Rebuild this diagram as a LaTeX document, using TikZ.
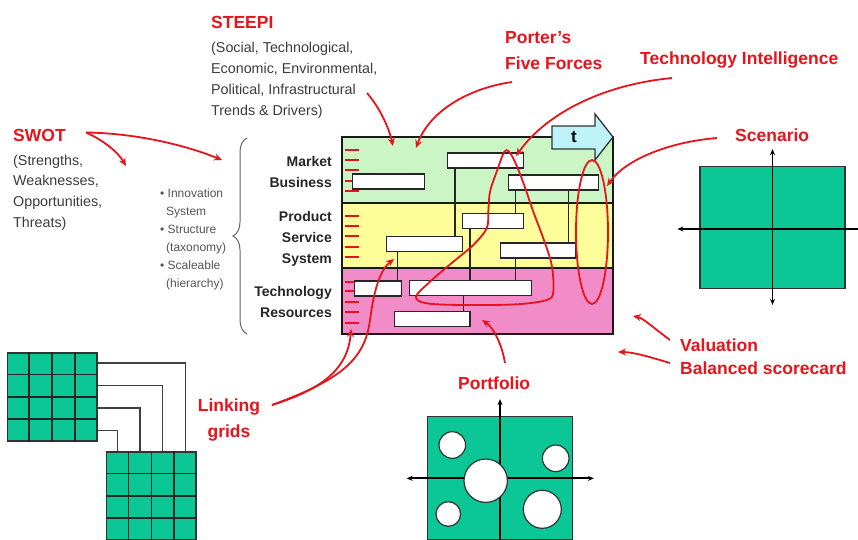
\documentclass[tikz,border=0pt]{standalone}
\usepackage{fontspec}
\setmainfont{Liberation Sans}
\usetikzlibrary{arrows.meta,decorations.pathreplacing,calc}
\definecolor{mkred}{HTML}{E8141C}
\definecolor{gridgreen}{HTML}{0BC795}
\definecolor{bandgreen}{HTML}{CCF5C6}
\definecolor{bandyellow}{HTML}{FDFD9A}
\definecolor{bandpink}{HTML}{F28CC9}
\definecolor{tcyan}{HTML}{BDF3F8}
\definecolor{subgray}{HTML}{3C3C3C}
\definecolor{bulgray}{HTML}{555555}
\begin{document}
\begin{tikzpicture}[x=1pt,y=-1pt,
  redlab/.style={text=mkred,font=\fontsize{17.5}{21}\selectfont\bfseries,inner sep=0pt,anchor=base west},
  sublab/.style={text=subgray,font=\fontsize{14.3}{21}\selectfont,inner sep=0pt,anchor=base west},
  bullab/.style={text=bulgray,font=\fontsize{12}{18}\selectfont,inner sep=0pt,anchor=base west},
  layerlab/.style={text=black!85,font=\fontsize{14}{21}\selectfont\bfseries,inner sep=0pt,anchor=base east},
  band/.style={draw=black!90,line width=2.2pt,minimum width=271.3pt,inner sep=0pt},
  wbox/.style={draw=black!85,fill=white,line width=1.3pt,minimum height=15pt,inner sep=0pt},
  boxlink/.style={draw=black!85,line width=1.3pt},
  redarrow/.style={draw=mkred,line width=1.8pt,-{Stealth[length=8pt,width=7pt]}},
  redline/.style={draw=mkred,line width=1.8pt},
  redtick/.style={draw=mkred,line width=2pt},
  axisline/.style={draw=black,line width=1.8pt},
  greenbox/.style={draw=black!80,fill=gridgreen,line width=1.2pt,inner sep=0pt},
  gridbox/.style={greenbox,line width=1.6pt,minimum width=89.4pt,minimum height=88pt},
  gridline/.style={draw=black!85,line width=1.6pt},
  gridlink/.style={draw=black!75,line width=1.3pt},
  hole/.style={circle,draw=black!80,fill=white,line width=1.2pt,inner sep=0pt}
]
\useasboundingbox (0,0) rectangle (858,539);
\clip (0,0) rectangle (858,539);
\fill[white] (0,0) rectangle (858,539);

% ---------- roadmap layers ----------
\node[band,fill=bandgreen,minimum height=66pt] (mkt) at (477.35,170.3) {};
\node[band,fill=bandyellow,minimum height=65pt] (prod) at (477.35,235.8) {};
\node[band,fill=bandpink,minimum height=65.7pt] (tech) at (477.35,301.15) {};

% red ticks on the left edge of each layer
\foreach \yy in {150,160,170,181,191,216,226,236,247,257,282,291,302,312,323}
  \draw[redtick] (345,\yy) -- (359,\yy);

% roadmap boxes
\node[wbox,minimum width=76pt]  (b1) at (485.3,160.5) {};
\node[wbox,minimum width=71.6pt] (b2) at (388.5,181.5) {};
\node[wbox,minimum width=90pt]  (b3) at (553.3,182.5) {};
\node[wbox,minimum width=60.6pt] (b4) at (493,220.8) {};
\node[wbox,minimum width=76pt]  (b5) at (424.7,243.9) {};
\node[wbox,minimum width=75pt]  (b6) at (538.2,250.5) {};
\node[wbox,minimum width=47.4pt] (b7) at (378,288.5) {};
\node[wbox,minimum width=122pt] (b8) at (470.3,288.3) {};
\node[wbox,minimum width=75.7pt] (b9) at (432.2,319.2) {};

% vertical links between boxes
\coordinate (k1) at (455,0);
\coordinate (k2) at (515.7,0);
\coordinate (k3) at (568.3,0);
\coordinate (k4) at (470,0);
\coordinate (k6) at (397.7,0);
\coordinate (k7) at (463.3,0);
\draw[boxlink] (b1.south -| k1) -- (b5.north -| k1);
\draw[boxlink] (b3.south -| k2) -- (b4.north -| k2);
\draw[boxlink] (b3.south -| k3) -- (b6.north -| k3);
\draw[boxlink] (b4.south -| k4) -- (b8.north -| k4);
\draw[boxlink] (b6.south -| k2) -- (b8.north -| k2);
\draw[boxlink] (b5.south -| k6) -- (b7.north -| k6);
\draw[boxlink] (b8.south -| k7) -- (b9.north -| k7);

% time arrow
\draw[fill=tcyan,draw=black!80,line width=1.3pt]
  (552,126) -- (595,126) -- (595,114) -- (613,137) -- (595,160) -- (595,149) -- (552,149) -- cycle;
\node[font=\fontsize{17}{20}\selectfont\bfseries,inner sep=0pt] (tlab) at (574,137.5) {t};

% layer labels
\node[layerlab] (lmarket) at (332,166.5) {Market};
\node[layerlab] (lbusiness) at (332,187.5) {Business};
\node[layerlab] (lproduct) at (332,221.5) {Product};
\node[layerlab] (lservice) at (332,242.5) {Service};
\node[layerlab] (lsystem) at (332,263.5) {System};
\node[layerlab] (ltech) at (332,296.5) {Technology};
\node[layerlab] (lres) at (332,317.5) {Resources};

% brace and bullet list
\draw[decorate,decoration={brace,amplitude=14pt},draw=black!60,line width=1pt] (247,334) -- (247,138);
\node[bullab] (bu1) at (160,197) {• Innovation};
\node[bullab] (bu2) at (166,215) {System};
\node[bullab] (bu3) at (160,233.5) {• Structure};
\node[bullab] (bu4) at (166,251.5) {(taxonomy)};
\node[bullab] (bu5) at (160,269) {• Scaleable};
\node[bullab] (bu6) at (166,287.5) {(hierarchy)};

% STEEPI and SWOT
\node[redlab] (steepi) at (211,28) {STEEPI};
\node[sublab] (st1) at (211,52) {(Social, Technological,};
\node[sublab] (st2) at (211,73) {Economic, Environmental,};
\node[sublab] (st3) at (211,94) {Political, Infrastructural};
\node[sublab] (st4) at (211,115) {Trends \& Drivers)};
\node[redlab] (swot) at (13,141.5) {SWOT};
\node[sublab] (sw1) at (13,165) {(Strengths,};
\node[sublab] (sw2) at (13,185.7) {Weaknesses,};
\node[sublab] (sw3) at (13,206.4) {Opportunities,};
\node[sublab] (sw4) at (13,227) {Threats)};

% other red labels
\node[redlab] (porter1) at (505,43.3) {Porter’s};
\node[redlab] (porter2) at (505,69.5) {Five Forces};
\node[redlab] (techint) at (640,64.7) {Technology Intelligence};
\node[redlab] (scenario) at (735,141) {Scenario};
\node[redlab] (valuation) at (680,351) {Valuation};
\node[redlab] (balanced) at (680,374) {Balanced scorecard};
\node[redlab,anchor=base] (linking) at (229,411) {Linking};
\node[redlab,anchor=base] (grids) at (229,437.5) {grids};
\node[redlab] (portfolio) at (458,389) {Portfolio};

% ---------- scenario quadrant ----------
\node[greenbox,minimum width=145pt,minimum height=121.6pt] (scen) at (772.5,227.5) {};
\draw[axisline,{Stealth[length=6pt,width=5pt]}-] ($(scen.west)+(-22,1.5)$) -- ($(scen.east)+(20,1.5)$);
\draw[axisline,{Stealth[length=6pt,width=5pt]}-{Stealth[length=6pt,width=5pt]}] ($(scen.north)+(0,-17)$) -- ($(scen.south)+(0,16)$);

% ---------- portfolio ----------
\node[greenbox,minimum width=144.6pt,minimum height=123.3pt] (port) at (500,478.35) {};
\draw[axisline,{Stealth[length=6pt,width=5pt]}-{Stealth[length=6pt,width=5pt]}] ($(port.west)+(-20.5,0)$) -- ($(port.east)+(21,0)$);
\draw[axisline,{Stealth[length=6pt,width=5pt]}-] ($(port.north)+(0,-17)$) -- ($(port.south)+(0,10)$);
\node[hole,minimum size=26.6pt] (pc1) at (452.3,445) {};
\node[hole,minimum size=43.4pt] (pc2) at (485.7,480.7) {};
\node[hole,minimum size=26.6pt] (pc3) at (555.7,458.3) {};
\node[hole,minimum size=24.6pt] (pc4) at (448.3,514) {};
\node[hole,minimum size=38pt] (pc5) at (542.3,509.3) {};

% ---------- linking grids ----------
\node[gridbox] (g1) at (52,396.7) {};
\node[gridbox] (g2) at (151.35,495.7) {};
\foreach \g in {g1,g2}
  \foreach \k in {0.25,0.5,0.75}{
    \draw[gridline] ($(\g.north west)!\k!(\g.north east)$) -- ($(\g.south west)!\k!(\g.south east)$);
    \draw[gridline] ($(\g.north west)!\k!(\g.south west)$) -- ($(\g.north east)!\k!(\g.south east)$);
  }
\draw[gridlink] ($(g1.north east)!0.125!(g1.south east)$) -| ($(g2.north west)!0.875!(g2.north east)$);
\draw[gridlink] ($(g1.north east)!0.375!(g1.south east)$) -| ($(g2.north west)!0.625!(g2.north east)$);
\draw[gridlink] ($(g1.north east)!0.625!(g1.south east)$) -| ($(g2.north west)!0.375!(g2.north east)$);
\draw[gridlink] ($(g1.north east)!0.875!(g1.south east)$) -| ($(g2.north west)!0.125!(g2.north east)$);

% ---------- red annotations ----------
\coordinate (swS) at (86,132.5);
\coordinate (swA) at (222,160);
\coordinate (swB) at (126,166);
\draw[redarrow] (swS) .. controls (130,133) and (180,143) .. (swA);
\draw[redarrow] (swS) .. controls (103,140) and (118,152) .. (swB);

\coordinate (stS) at (367,93);
\coordinate (stE) at (393,146);
\draw[redarrow] (stS) .. controls (380,108) and (389,128) .. (stE);

\coordinate (poS) at (512,82);
\coordinate (poE) at (416,148);
\draw[redarrow] (poS) .. controls (470,88) and (430,110) .. (poE);

\coordinate (tiS) at (672,78);
\coordinate (tiE) at (516,156);
\draw[redarrow] (tiS) .. controls (600,85) and (545,115) .. (tiE);

% intelligence loop through the roadmap
\draw[redline] plot[smooth cycle,tension=0.55] coordinates {
  (505,151) (496.7,171.7) (490,191.7) (488.3,211.7) (486.7,228.3) (473.3,245)
  (453.3,261.7) (430,281.7) (416,296.7) (426.7,303.3) (463.3,305) (516.7,304.3)
  (546.7,300) (553.3,291.7) (551.7,265) (543.3,238.3) (533.3,211.7) (521.7,178.3)
  (512,156)};

\coordinate (scS) at (717,138);
\coordinate (scE) at (607,186);
\draw[redarrow] (scS) .. controls (668,142) and (625,160) .. (scE);
\draw[redline] (592,232) ellipse [x radius=16, y radius=72];

\coordinate (vaS) at (670,340);
\coordinate (vaE) at (633,316);
\draw[redarrow] (vaS) .. controls (655,329) and (643,318) .. (vaE);
\coordinate (baS) at (670,363);
\coordinate (baE) at (618,352);
\draw[redarrow] (baS) .. controls (650,357) and (633,352) .. (baE);

\coordinate (pfS) at (505,363);
\coordinate (pfE) at (482,320);
\draw[redarrow] (pfS) .. controls (502,345) and (494,328) .. (pfE);

\coordinate (liS) at (272,405);
\coordinate (liA) at (351,329);
\coordinate (liM) at (370,320);
\coordinate (liB) at (394,259);
\draw[redarrow] (liS) .. controls (320,390) and (348,370) .. (liA);
\draw[redarrow] (liS) .. controls (340,380) and (365,360) .. (liM) .. controls (374,290) and (380,270) .. (liB);
\end{tikzpicture}
\end{document}
